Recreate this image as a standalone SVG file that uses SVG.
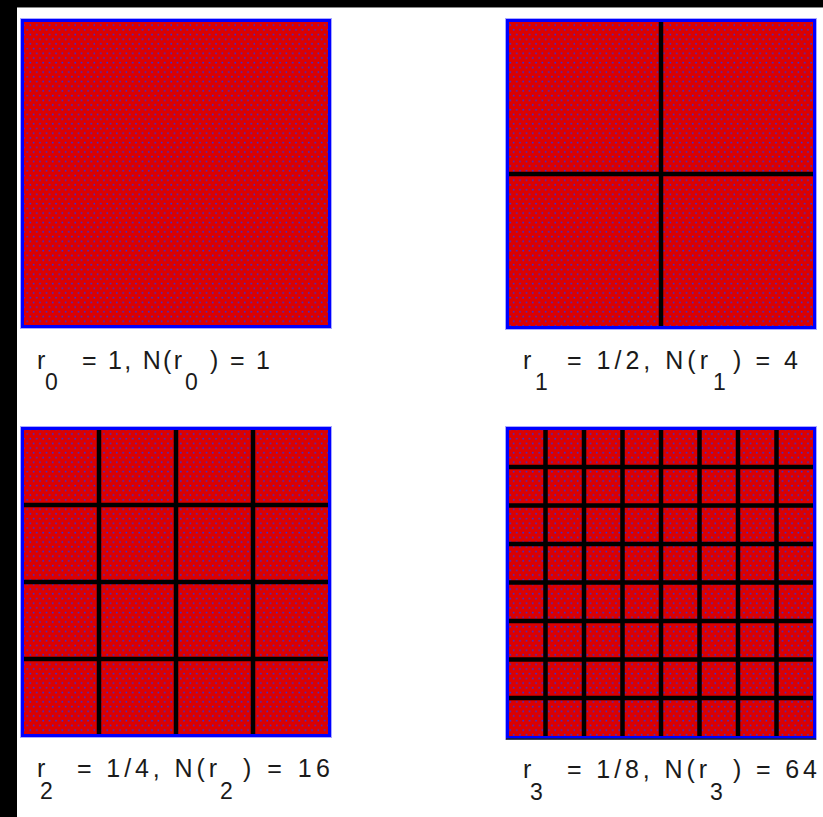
<svg xmlns="http://www.w3.org/2000/svg" width="823" height="817" viewBox="0 0 823 817">
<style>
.sq{fill:url(#dots);stroke:#0000ff;stroke-width:3}
.halo{fill:none;stroke:#a8a8ff;stroke-width:1}
.grid{stroke:#000;stroke-width:4.5;fill:none}
.t{font-family:"Liberation Sans","DejaVu Sans",sans-serif;font-size:25px;fill:#1a1a1a}
.s{font-family:"Liberation Sans","DejaVu Sans",sans-serif;font-size:23px;fill:#1a1a1a}
</style>
<defs>
<pattern id="dots" patternUnits="userSpaceOnUse" width="6.4" height="9.4">
<rect width="6.4" height="9.4" fill="#dc0000"/>
<rect x="0.8" y="0.8" width="1.6" height="1.6" fill="#3030e0"/>
<rect x="4" y="5.5" width="1.6" height="1.6" fill="#3030e0"/>
</pattern>
</defs>
<rect width="823" height="817" fill="#fff"/>
<rect x="0" y="0" width="823" height="7" fill="#000"/>
<rect x="0" y="7" width="823" height="1" fill="#888"/>
<rect x="0" y="0" width="17" height="817" fill="#000"/>

<g id="panel0">
<rect class="halo" x="20.5" y="18.5" width="311" height="310"/>
<rect class="sq" x="22.5" y="20.5" width="307" height="306"/>
<text class="t" x="37" y="369">r</text>
<text class="s" x="45" y="390">0</text>
<text class="t" x="82" y="369" textLength="100" lengthAdjust="spacing">= 1, N(r</text>
<text class="s" x="185" y="390">0</text>
<text class="t" x="210" y="369" textLength="60" lengthAdjust="spacing">) = 1</text>
</g>

<g id="panel1">
<rect class="halo" x="505.5" y="18.5" width="311" height="311"/>
<rect class="sq" x="507.5" y="20.5" width="307" height="307"/>
<path class="grid" d="M661 22V326M509 174H813"/>
<text class="t" x="523" y="369">r</text>
<text class="s" x="535" y="390">1</text>
<text class="t" x="567" y="369" textLength="141" lengthAdjust="spacing">= 1/2, N(r</text>
<text class="s" x="713" y="390">1</text>
<text class="t" x="733" y="369" textLength="65" lengthAdjust="spacing">) = 4</text>
</g>

<g id="panel2">
<rect class="halo" x="20.5" y="426.5" width="311" height="311"/>
<rect class="sq" x="22.5" y="428.5" width="307" height="307"/>
<path class="grid" d="M99 430V734M176 430V734M253 430V734M24 505H328M24 582H328M24 659H328"/>
<text class="t" x="37" y="777">r</text>
<text class="s" x="40" y="799">2</text>
<text class="t" x="77" y="777" textLength="140" lengthAdjust="spacing">= 1/4, N(r</text>
<text class="s" x="220" y="799">2</text>
<text class="t" x="243" y="777" textLength="87" lengthAdjust="spacing">) = 16</text>
</g>

<g id="panel3">
<rect class="halo" x="505.5" y="426.5" width="311" height="313"/>
<rect class="sq" x="507.5" y="428.5" width="307" height="309"/>
<path class="grid" d="M545.5 430V736M584 430V736M622.5 430V736M661 430V736M699.5 430V736M738 430V736M776.5 430V736M509 467H813M509 505.5H813M509 544H813M509 582.5H813M509 621H813M509 659.5H813M509 698H813"/>
<path d="M506 739H816" stroke="#222" stroke-width="1.5"/>
<text class="t" x="523" y="778">r</text>
<text class="s" x="530" y="800">3</text>
<text class="t" x="567" y="778" textLength="140" lengthAdjust="spacing">= 1/8, N(r</text>
<text class="s" x="710" y="800">3</text>
<text class="t" x="733" y="778" textLength="84" lengthAdjust="spacing">) = 64</text>
</g>
</svg>
